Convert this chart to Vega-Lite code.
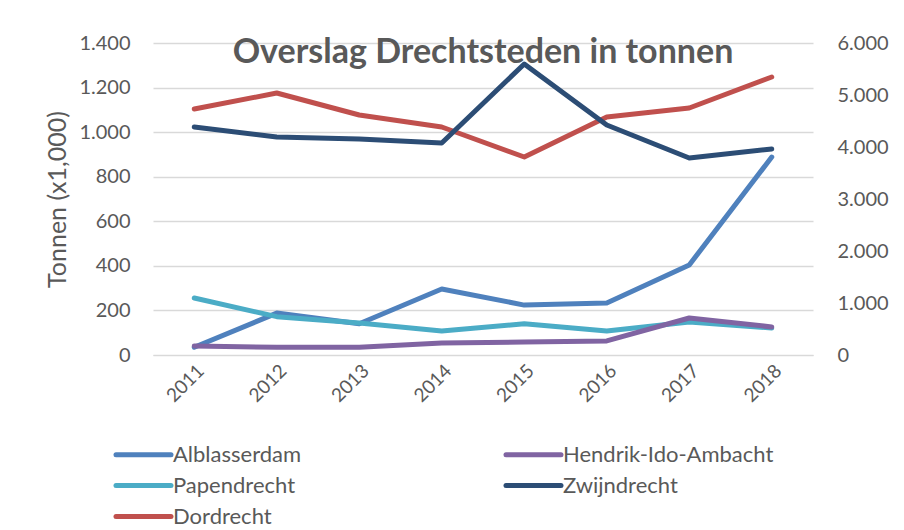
{
  "$schema": "https://vega.github.io/schema/vega-lite/v6.json",
  "width": 660,
  "height": 312,
  "autosize": "none",
  "padding": {"left": 153, "top": 43, "right": 91, "bottom": 175},
  "background": "white",
  "config": {
    "locale": {"number": {"decimal": ",", "thousands": ".", "grouping": [3], "currency": ["€", ""]}},
    "view": {"stroke": null},
    "font": "Lato",
    "axis": {"labelColor": "#595959", "titleColor": "#595959", "labelFont": "Lato", "titleFont": "Lato"}
  },
  "title": {
    "text": "Overslag Drechtsteden in tonnen",
    "font": "Lato",
    "fontSize": 34,
    "fontWeight": "bold",
    "color": "#595959",
    "anchor": "middle",
    "offset": -37
  },
  "data": {
    "values": [
      {"year": "2011", "plaats": "Alblasserdam", "side": "left", "value": 35},
      {"year": "2012", "plaats": "Alblasserdam", "side": "left", "value": 188},
      {"year": "2013", "plaats": "Alblasserdam", "side": "left", "value": 140},
      {"year": "2014", "plaats": "Alblasserdam", "side": "left", "value": 296},
      {"year": "2015", "plaats": "Alblasserdam", "side": "left", "value": 224},
      {"year": "2016", "plaats": "Alblasserdam", "side": "left", "value": 233},
      {"year": "2017", "plaats": "Alblasserdam", "side": "left", "value": 404},
      {"year": "2018", "plaats": "Alblasserdam", "side": "left", "value": 888},
      {"year": "2011", "plaats": "Papendrecht", "side": "left", "value": 256},
      {"year": "2012", "plaats": "Papendrecht", "side": "left", "value": 172},
      {"year": "2013", "plaats": "Papendrecht", "side": "left", "value": 144},
      {"year": "2014", "plaats": "Papendrecht", "side": "left", "value": 108},
      {"year": "2015", "plaats": "Papendrecht", "side": "left", "value": 140},
      {"year": "2016", "plaats": "Papendrecht", "side": "left", "value": 108},
      {"year": "2017", "plaats": "Papendrecht", "side": "left", "value": 148},
      {"year": "2018", "plaats": "Papendrecht", "side": "left", "value": 121},
      {"year": "2011", "plaats": "Hendrik-Ido-Ambacht", "side": "left", "value": 40},
      {"year": "2012", "plaats": "Hendrik-Ido-Ambacht", "side": "left", "value": 35},
      {"year": "2013", "plaats": "Hendrik-Ido-Ambacht", "side": "left", "value": 35},
      {"year": "2014", "plaats": "Hendrik-Ido-Ambacht", "side": "left", "value": 54},
      {"year": "2015", "plaats": "Hendrik-Ido-Ambacht", "side": "left", "value": 58},
      {"year": "2016", "plaats": "Hendrik-Ido-Ambacht", "side": "left", "value": 63},
      {"year": "2017", "plaats": "Hendrik-Ido-Ambacht", "side": "left", "value": 166},
      {"year": "2018", "plaats": "Hendrik-Ido-Ambacht", "side": "left", "value": 126},
      {"year": "2011", "plaats": "Dordrecht", "side": "right", "value": 4731},
      {"year": "2012", "plaats": "Dordrecht", "side": "right", "value": 5038},
      {"year": "2013", "plaats": "Dordrecht", "side": "right", "value": 4615},
      {"year": "2014", "plaats": "Dordrecht", "side": "right", "value": 4385},
      {"year": "2015", "plaats": "Dordrecht", "side": "right", "value": 3808},
      {"year": "2016", "plaats": "Dordrecht", "side": "right", "value": 4577},
      {"year": "2017", "plaats": "Dordrecht", "side": "right", "value": 4750},
      {"year": "2018", "plaats": "Dordrecht", "side": "right", "value": 5346},
      {"year": "2011", "plaats": "Zwijndrecht", "side": "right", "value": 4385},
      {"year": "2012", "plaats": "Zwijndrecht", "side": "right", "value": 4192},
      {"year": "2013", "plaats": "Zwijndrecht", "side": "right", "value": 4154},
      {"year": "2014", "plaats": "Zwijndrecht", "side": "right", "value": 4077},
      {"year": "2015", "plaats": "Zwijndrecht", "side": "right", "value": 5596},
      {"year": "2016", "plaats": "Zwijndrecht", "side": "right", "value": 4423},
      {"year": "2017", "plaats": "Zwijndrecht", "side": "right", "value": 3788},
      {"year": "2018", "plaats": "Zwijndrecht", "side": "right", "value": 3962}
    ]
  },
  "encoding": {
    "x": {
      "field": "year",
      "type": "ordinal",
      "scale": {"type": "point", "padding": 0.5},
      "axis": {
        "title": null,
        "labelAngle": -45,
        "labelFontSize": 19,
        "ticks": false,
        "domain": true,
        "domainColor": "#D9D9D9",
        "labelPadding": 6
      }
    },
    "color": {
      "field": "plaats",
      "type": "nominal",
      "scale": {
        "domain": ["Alblasserdam", "Hendrik-Ido-Ambacht", "Papendrecht", "Zwijndrecht", "Dordrecht"],
        "range": ["#4F81BD", "#8064A2", "#4BACC6", "#2C4D75", "#C0504D"]
      },
      "legend": {
        "title": null,
        "orient": "none",
        "legendX": -26,
        "legendY": 395,
        "columns": 2,
        "direction": "horizontal",
        "symbolType": "M-2,0L2,0",
        "symbolSize": 756,
        "symbolStrokeWidth": 5,
        "labelFont": "Lato",
        "labelFontSize": 22,
        "labelColor": "#595959",
        "labelOffset": 13,
        "columnPadding": 194,
        "rowPadding": 3,
        "labelLimit": 400,
        "encode": {"symbols": {"update": {"strokeCap": {"value": "round"}}}}
      }
    }
  },
  "layer": [
    {
      "transform": [{"filter": "datum.side === 'left'"}],
      "mark": {"type": "line", "strokeWidth": 5, "strokeCap": "round", "strokeJoin": "round"},
      "encoding": {
        "y": {
          "field": "value",
          "type": "quantitative",
          "scale": {"domain": [0, 1400], "nice": false},
          "axis": {
            "orient": "left",
            "values": [0, 200, 400, 600, 800, 1000, 1200, 1400],
            "format": ",d",
            "title": "Tonnen (x1,000)",
            "titleFontSize": 25,
            "titleFontWeight": "normal",
            "titlePadding": 8,
            "labelFontSize": 20,
            "labelPadding": 23,
            "ticks": false,
            "domain": false,
            "gridColor": "#D9D9D9",
            "gridWidth": 1.5
          }
        }
      }
    },
    {
      "transform": [{"filter": "datum.side === 'right'"}],
      "mark": {"type": "line", "strokeWidth": 5, "strokeCap": "round", "strokeJoin": "round"},
      "encoding": {
        "y": {
          "field": "value",
          "type": "quantitative",
          "scale": {"domain": [0, 6000], "nice": false},
          "axis": {
            "orient": "right",
            "values": [0, 1000, 2000, 3000, 4000, 5000, 6000],
            "format": ",d",
            "title": null,
            "labelFontSize": 20,
            "labelPadding": 24,
            "ticks": false,
            "domain": false,
            "grid": false
          }
        }
      }
    }
  ],
  "resolve": {"scale": {"y": "independent"}}
}
